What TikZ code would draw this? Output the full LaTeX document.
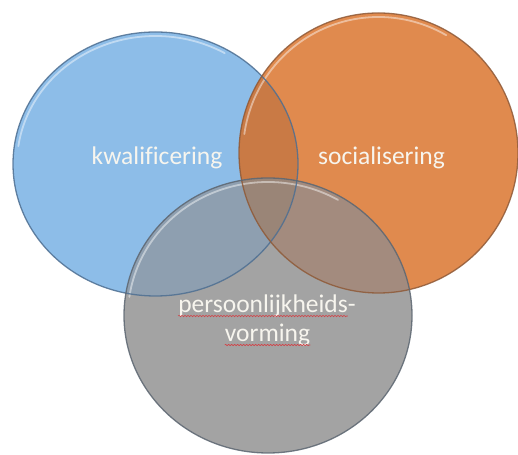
\documentclass[tikz,border=0pt]{standalone}
\usepackage{fontspec}
\setmainfont{Carlito}[Ligatures=NoCommon]
\usepackage{xcolor}
\usepackage{tikz}
\usetikzlibrary{calc,decorations.pathmorphing}
\definecolor{kblue}{HTML}{8DBDE8}
\definecolor{kblueedge}{HTML}{4E6F92}
\definecolor{sorange}{HTML}{E08A4E}
\definecolor{sorangeedge}{HTML}{8F5A38}
\definecolor{pgray}{HTML}{A3A3A3}
\definecolor{pgrayedge}{HTML}{5C6671}
\definecolor{mixbo}{HTML}{C97A45}
\definecolor{mixbg}{HTML}{8E9FB0}
\definecolor{mixog}{HTML}{A38B7E}
\definecolor{mixall}{HTML}{9A8577}
\definecolor{labeltext}{HTML}{F7F5EE}
\definecolor{spellred}{HTML}{D0454A}
\tikzset{
  rim/.style={line width=1.3pt, opacity=0.85},
  glint/.style={draw=white, line width=1.8pt, opacity=0.45, line cap=round},
  lbl/.style={text=labeltext, font=\fontsize{25.5}{28}\selectfont, anchor=base, inner sep=0pt},
  spell/.style={draw=spellred, line width=0.6pt, decorate,
    decoration={snake, segment length=3pt, amplitude=0.7pt}},
}

\begin{document}
\begin{tikzpicture}[x=1pt,y=1pt]
  \useasboundingbox (0,0) rectangle (518,454);
  \coordinate (B) at (155.5,290);
  \coordinate (O) at (378.5,301);
  \coordinate (G) at (268,138.5);
  % the three discs
  \fill[kblue] (B) ellipse [x radius=142.5pt, y radius=132pt];
  \fill[sorange] (O) ellipse [x radius=139.5pt, y radius=140pt];
  \fill[pgray] (G) ellipse [x radius=144pt, y radius=137.5pt];
  % overlaps
  \begin{scope}
    \clip (B) ellipse [x radius=142.5pt, y radius=132pt];
    \fill[mixbo] (O) ellipse [x radius=139.5pt, y radius=140pt];
    \fill[mixbg] (G) ellipse [x radius=144pt, y radius=137.5pt];
  \end{scope}
  \begin{scope}
    \clip (O) ellipse [x radius=139.5pt, y radius=140pt];
    \fill[mixog] (G) ellipse [x radius=144pt, y radius=137.5pt];
    \clip (B) ellipse [x radius=142.5pt, y radius=132pt];
    \fill[mixall] (G) ellipse [x radius=144pt, y radius=137.5pt];
  \end{scope}
  % highlights near the top
  \draw[glint] ($(B)+(172:138.5pt and 128pt)$) arc [start angle=172, end angle=60, x radius=138.5pt, y radius=128pt];
  \draw[glint] ($(O)+(172:135.5pt and 136pt)$) arc [start angle=172, end angle=60, x radius=135.5pt, y radius=136pt];
  \draw[glint] ($(G)+(172:140pt and 133.5pt)$) arc [start angle=172, end angle=60, x radius=140pt, y radius=133.5pt];
  % rims
  \draw[rim, kblueedge] (B) ellipse [x radius=142.5pt, y radius=132pt];
  \draw[rim, sorangeedge] (O) ellipse [x radius=139.5pt, y radius=140pt];
  \draw[rim, pgrayedge] (G) ellipse [x radius=144pt, y radius=137.5pt];
  % labels
  \node[lbl] (kwal) at (157,289) {kwalificering};
  \node[lbl] (soc) at (381.5,289) {socialisering};
  \node[lbl] (pers) at (267,141) {persoonlijkheids-};
  \node[lbl] (vorm) at (267.5,112) {vorming};
  \draw[spell] ($(pers.base west)+(0,-3)$) -- ($(pers.base east)+(-8,-3)$);
  \draw[spell] ($(vorm.base west)+(0,-3)$) -- ($(vorm.base east)+(0,-3)$);
\end{tikzpicture}
\end{document}
